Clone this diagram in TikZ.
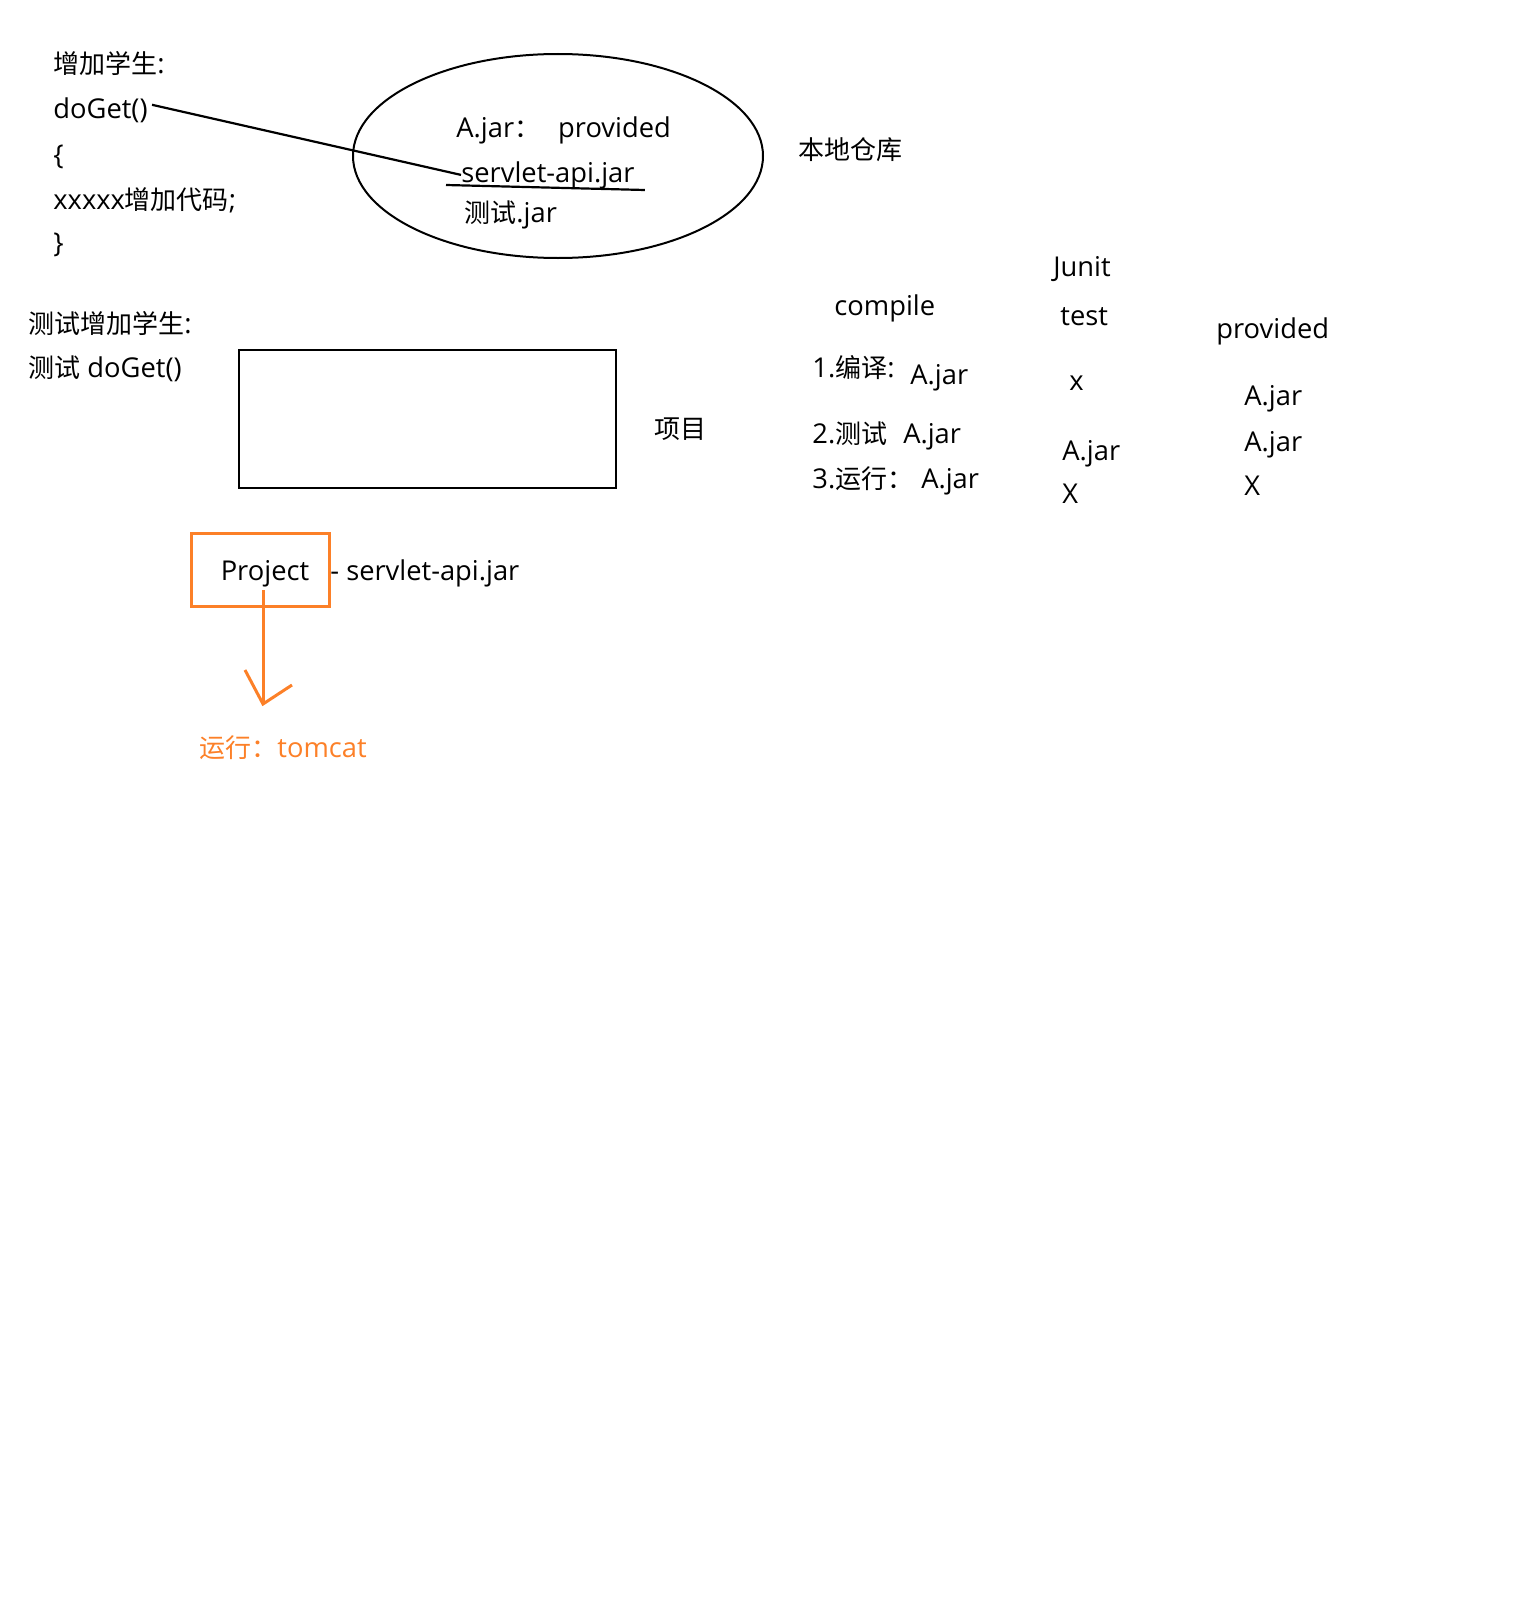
\documentclass[tikz,border=0pt]{standalone}
\usepackage{fontspec}
\setmainfont{Open Sans}[Scale=1.05]
\newfontfamily\cjk{Noto Sans CJK SC}
\newcommand{\zh}[1]{{\cjk #1}}
\usetikzlibrary{shapes.geometric,calc}
\definecolor{penorange}{RGB}{252,128,40}

\begin{document}
\begin{tikzpicture}[x=0.5pt,y=-0.5pt,
  txt/.style={inner sep=0pt,anchor=base west,font=\fontsize{13}{16}\selectfont},
  ink/.style={line width=1.1pt},
  pen/.style={draw=penorange,line width=1.5pt}
]
\useasboundingbox (0,0) rectangle (1524,1600);

% code on the left
\node[txt] (title)  at (53,74)  {\zh{增加学生}:};
\node[txt] (doget)  at (53,119) {doGet()};
\node[txt] (lbrace) at (53,164) {\{};
\node[txt] (body)   at (53,209) {xxxxx\zh{增加代码};};
\node[txt] (rbrace) at (53,252) {\}};

% local repository
\node[ellipse,draw,line width=1pt,minimum width=205pt,minimum height=102pt] (repo) at (558,156) {};
\node[txt] (ajar)    at (456,137) {A.jar\zh{：}\hspace{9pt}provided};
\node[txt] (servlet) at (461,182) {servlet-api.jar};
\node[txt] (testjar) at (464,222) {\zh{测试}.jar};
\node[txt] (repolabel) at (798,160) {\zh{本地仓库}};

\draw[ink] ([xshift=2pt,yshift=3pt]doget.east) -- (servlet.west);
\draw[ink] ($(servlet.base west)+(-15,3)$) -- ($(servlet.base east)+(10,8)$);

% test block
\node[txt] (testtitle) at (28,333) {\zh{测试增加学生}:};
\node[txt] (testdoget) at (28,377) {\zh{测试} doGet()};
\node[draw,line width=1.4pt,minimum width=188.5pt,minimum height=69pt] (proj) at (427.5,419) {};
\node[txt] (projlabel) at (654,438) {\zh{项目}};

% project and tomcat
\node[pen,inner sep=0pt,minimum width=69pt,minimum height=36.5pt,
      text height=10pt,text depth=0pt,
      font=\fontsize{13}{16}\selectfont] (project) at (260,570) {\hspace{5pt}Project};
\node[txt] (servapi) at (330,580) {- servlet-api.jar};
\coordinate (tip) at (263,704);
\draw[pen] ($(project.center)+(3,20)$) -- (tip);
\draw[pen] ($(tip)+(-18,-34)$) -- (tip) -- ($(tip)+(29,-19)$);
\node[txt,text=penorange] (tomcat) at (199,757) {\zh{运行：}tomcat};

% scope table
\node[txt] (junit)    at (1053,276) {Junit};
\node[txt] (compile)  at (834,315)  {compile};
\node[txt] (test)     at (1060,325) {test};
\node[txt] (provided) at (1216,338) {provided};

\node[txt] (rowa)  at (812,377) {1.\zh{编译}:};
\node[txt] (rowb)  at (812,443) {2.\zh{测试}\hspace{8pt}A.jar};
\node[txt] (rowc)  at (812,488) {3.\zh{运行：}\hspace{4pt}A.jar};
\node[txt] (comp)  at (910,384) {A.jar};

\node[txt] (testa) at (1069,390) {x};
\node[txt] (testb) at (1062,460) {A.jar};
\node[txt] (testc) at (1062,503) {X};

\node[txt] (prova) at (1244,405) {A.jar};
\node[txt] (provb) at (1244,451) {A.jar};
\node[txt] (provc) at (1244,495) {X};
\end{tikzpicture}
\end{document}
